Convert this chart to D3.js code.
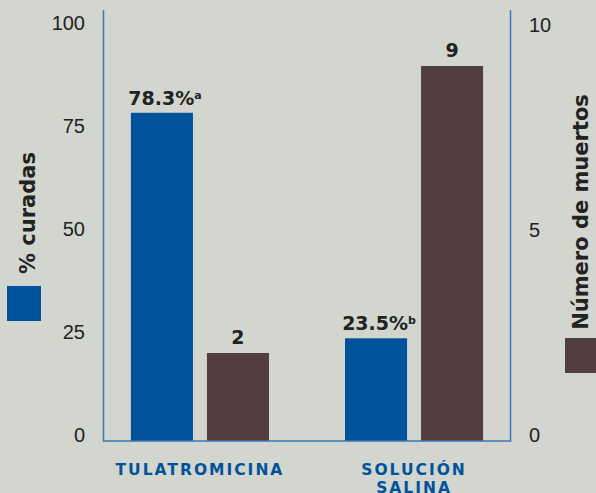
<!DOCTYPE html>
<html>
<head>
<meta charset="utf-8">
<script src="https://cdn.jsdelivr.net/npm/d3@7"></script>
<style>
  body { margin: 0; background: #d3d5cf; }
  svg { display: block; font-family: "DejaVu Sans", Verdana, sans-serif; }
  .tick text { fill: #222; font-size: 20px; }
  .bar-label { font-weight: bold; font-size: 19px; fill: #222; text-anchor: middle; }
  .cat-label { font-weight: bold; font-size: 15.5px; fill: #00529b; text-anchor: middle; letter-spacing: 2px; }
  .axis-title { font-weight: bold; font-size: 21px; fill: #222; text-anchor: middle; }
</style>
</head>
<body>
<svg id="chart"></svg>
<script>
// data
const categories = ['TULATROMICINA', 'SOLUCIÓN SALINA'];
const series = ['curadas', 'muertos'];
const curadas = [78.3, 23.5];       // % curadas (left axis)
const muertos = [2, 9];             // número de muertos (right axis)
const curadasText = ['78.3%', '23.5%'];
const curadasSup = ['a', 'b'];
const leftTicks = [0, 25, 50, 75, 100];
const rightTicks = [0, 5, 10];

const colors = { curadas: '#00529b', muertos: '#523e40' };

const W = 596, H = 493;
const plot = { left: 103.5, right: 510.5, top: 10, bottom: 441 };

const svg = d3.select('#chart').attr('width', W).attr('height', H);

// scales
const x0 = d3.scaleBand()
  .domain(categories)
  .range([plot.left, plot.right])
  .paddingInner(0.355)
  .paddingOuter(0.128);

const x1 = d3.scaleBand()
  .domain(series)
  .range([0, x0.bandwidth()])
  .paddingInner(0.184);

const yLeft = d3.scaleLinear().domain([0, 100]).range([435, 23.5]);
const yRight = d3.scaleLinear().domain([0, 10]).range([435, 25]);

// axes (labels only)
const leftAxis = d3.axisLeft(yLeft).tickValues(leftTicks).tickSize(0).tickPadding(18.5);
const rightAxis = d3.axisRight(yRight).tickValues(rightTicks).tickSize(0).tickPadding(18.5);

svg.append('g')
  .attr('transform', `translate(${plot.left},0)`)
  .call(leftAxis)
  .call(g => g.select('.domain').remove())
  .selectAll('text').attr('font-family', null).attr('font-size', null);

svg.append('g')
  .attr('transform', `translate(${plot.right},0)`)
  .call(rightAxis)
  .call(g => g.select('.domain').remove())
  .selectAll('text').attr('font-family', null).attr('font-size', null);

// axis lines
const axisColor = '#3a76b5';
svg.append('line')
  .attr('x1', plot.left).attr('x2', plot.left)
  .attr('y1', plot.top).attr('y2', plot.bottom)
  .attr('stroke', axisColor).attr('stroke-width', 1.5);
svg.append('line')
  .attr('x1', plot.right).attr('x2', plot.right)
  .attr('y1', plot.top).attr('y2', plot.bottom)
  .attr('stroke', axisColor).attr('stroke-width', 1.5);

// bars
const groups = svg.selectAll('.group')
  .data(categories)
  .join('g')
  .attr('class', 'group')
  .attr('transform', d => `translate(${x0(d)},0)`);

groups.append('rect')
  .attr('x', x1('curadas'))
  .attr('y', (d, i) => yLeft(curadas[i]))
  .attr('width', x1.bandwidth())
  .attr('height', (d, i) => plot.bottom - yLeft(curadas[i]))
  .attr('fill', colors.curadas);

groups.append('rect')
  .attr('x', x1('muertos'))
  .attr('y', (d, i) => yRight(muertos[i]))
  .attr('width', x1.bandwidth())
  .attr('height', (d, i) => plot.bottom - yRight(muertos[i]))
  .attr('fill', colors.muertos);

// baseline on top of bars
svg.append('line')
  .attr('x1', plot.left - 0.75).attr('x2', plot.right + 0.75)
  .attr('y1', plot.bottom).attr('y2', plot.bottom)
  .attr('stroke', axisColor).attr('stroke-width', 1.5);

// value labels
groups.append('text')
  .attr('class', 'bar-label')
  .attr('x', x1('curadas') + x1.bandwidth() / 2 + 3)
  .attr('y', (d, i) => yLeft(curadas[i]) - 8)
  .each(function(d, i) {
    const t = d3.select(this);
    t.append('tspan').text(curadasText[i]);
    t.append('tspan').attr('font-size', 11).attr('dy', -6).text(curadasSup[i]);
  });

groups.append('text')
  .attr('class', 'bar-label')
  .attr('x', x1('muertos') + x1.bandwidth() / 2)
  .attr('y', (d, i) => yRight(muertos[i]) - 9)
  .text((d, i) => muertos[i]);

// category labels
groups.append('text')
  .attr('class', 'cat-label')
  .attr('x', x0.bandwidth() / 2)
  .attr('y', 475)
  .each(function(d) {
    const t = d3.select(this);
    d.split(' ').forEach((w, k) => {
      t.append('tspan')
        .attr('x', x0.bandwidth() / 2)
        .attr('dy', k === 0 ? 0 : 18)
        .text(w);
    });
  });

// axis titles + legend squares
svg.append('text')
  .attr('class', 'axis-title')
  .attr('transform', 'translate(35,213) rotate(-90)')
  .text('% curadas');
svg.append('rect')
  .attr('x', 7).attr('y', 286).attr('width', 34).attr('height', 35)
  .attr('fill', colors.curadas);

svg.append('text')
  .attr('class', 'axis-title')
  .attr('transform', 'translate(588,212) rotate(-90)')
  .text('Número de muertos');
svg.append('rect')
  .attr('x', 565).attr('y', 338).attr('width', 35).attr('height', 35)
  .attr('fill', colors.muertos);
</script>
</body>
</html>
